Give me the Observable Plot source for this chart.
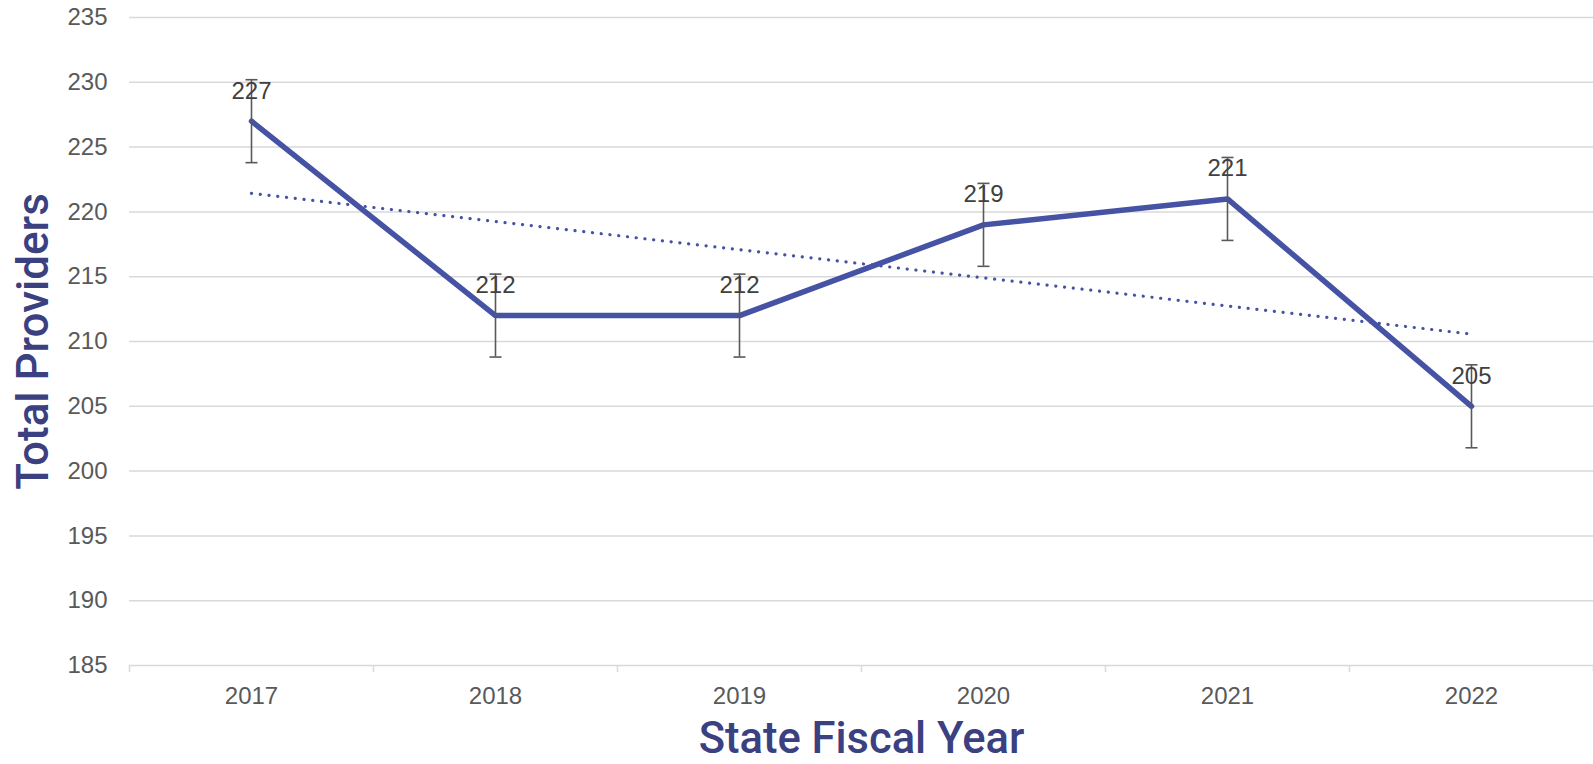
<!DOCTYPE html>
<html>
<head>
<meta charset="utf-8">
<script src="https://cdn.jsdelivr.net/npm/d3@7"></script>
<script src="https://cdn.jsdelivr.net/npm/@observablehq/plot@0.6"></script>
<style>
  html, body { margin: 0; padding: 0; background: #ffffff; }
  #chart { width: 1593px; height: 764px; }
</style>
</head>
<body>
<div id="chart"></div>
<script>
const years = [2017, 2018, 2019, 2020, 2021, 2022];
const providers = [227, 212, 212, 219, 221, 205];
const errors = [3.2, 3.2, 3.2, 3.2, 3.2, 3.2];
const yTicks = [185, 190, 195, 200, 205, 210, 215, 220, 225, 230, 235];
const yTitle = "Total Providers";
const xTitle = "State Fiscal Year";

const data = years.map((year, i) => ({year, value: providers[i], err: errors[i]}));
const edges = years.map(y => y - 0.5).concat([years[years.length - 1] + 0.5]);

const capSymbol = {
  draw(context, size) {
    const w = Math.sqrt(size / Math.PI);
    context.moveTo(-w, 0);
    context.lineTo(w, 0);
  }
};

const lineColor = "#4652a3";
const titleColor = "#3a4080";
const gray = "#595959";
const titleFont = "Roboto, 'Liberation Sans', Arial, sans-serif";

const chart = Plot.plot({
  width: 1593,
  height: 764,
  marginLeft: 129,
  marginRight: 0,
  marginTop: 17,
  marginBottom: 99,
  style: {fontFamily: "'Liberation Sans', Arial, sans-serif", background: "#ffffff"},
  x: {domain: [edges[0], edges[edges.length - 1]]},
  y: {domain: [yTicks[0], yTicks[yTicks.length - 1]]},
  marks: [
    Plot.gridY(yTicks, {stroke: "#d9d9d9", strokeOpacity: 1, strokeWidth: 1.5}),
    Plot.axisX({ticks: edges, tickSize: 7, tickFormat: () => "", stroke: "#d9d9d9", strokeWidth: 1.5, strokeOpacity: 1, label: null}),
    Plot.axisX({ticks: years, tickSize: 0, tickPadding: 21, tickFormat: d => String(d), fontSize: 24, fill: gray, label: null}),
    Plot.axisY({ticks: yTicks, tickSize: 0, tickPadding: 22, fontSize: 24, fill: gray, label: null}),
    Plot.linearRegressionY(data, {x: "year", y: "value", ci: 0, stroke: lineColor, strokeWidth: 3.2, strokeDasharray: "0.1 8.7", strokeLinecap: "round"}),
    Plot.line(data, {x: "year", y: "value", stroke: lineColor, strokeWidth: 5.5, strokeLinejoin: "miter"}),
    Plot.ruleX(data, {x: "year", y1: d => d.value - d.err, y2: d => d.value + d.err, stroke: gray, strokeWidth: 1.6}),
    Plot.dot(data, {x: "year", y: d => d.value + d.err, symbol: capSymbol, r: 6, stroke: gray, strokeWidth: 1.6, fill: "none"}),
    Plot.dot(data, {x: "year", y: d => d.value - d.err, symbol: capSymbol, r: 6, stroke: gray, strokeWidth: 1.6, fill: "none"}),
    Plot.text(data, {x: "year", y: "value", text: d => String(d.value), dy: -22.5, lineAnchor: "bottom", fontSize: 24, fill: "#404040"}),
    Plot.text([yTitle], {frameAnchor: "left", dx: -96, rotate: -90, textAnchor: "middle", fontSize: 44, fontWeight: 500, fontFamily: titleFont, fill: titleColor, lineAnchor: "middle"}),
    Plot.text([xTitle], {frameAnchor: "bottom", dy: 87, textAnchor: "middle", lineAnchor: "bottom", fontSize: 43.5, fontWeight: 500, fontFamily: titleFont, fill: titleColor})
  ]
});
document.getElementById("chart").appendChild(chart);
</script>
</body>
</html>
